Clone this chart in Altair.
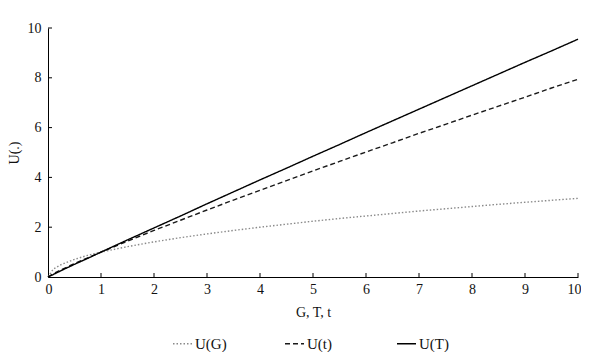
import altair as alt
import pandas as pd

x_vals = [0, 0.1, 0.25, 0.5, 0.75, 1, 1.5, 2, 2.5, 3, 3.5, 4, 4.5, 5, 5.5, 6, 6.5, 7, 7.5, 8, 8.5, 9, 9.5, 10]
u_G = [0, 0.32, 0.5, 0.71, 0.87, 1, 1.22, 1.41, 1.58, 1.73, 1.87, 2, 2.12, 2.24, 2.35, 2.45, 2.55, 2.65, 2.74, 2.83, 2.92, 3, 3.08, 3.16]
u_t = [0, 0.13, 0.29, 0.54, 0.77, 1, 1.44, 1.87, 2.28, 2.69, 3.09, 3.48, 3.87, 4.26, 4.64, 5.02, 5.39, 5.77, 6.13, 6.50, 6.86, 7.22, 7.59, 7.94]
u_T = [0, 0.10, 0.26, 0.51, 0.75, 1, 1.49, 1.97, 2.45, 2.94, 3.42, 3.90, 4.37, 4.85, 5.32, 5.80, 6.27, 6.74, 7.21, 7.68, 8.15, 8.62, 9.08, 9.55]
series_names = ["U(G)", "U(t)", "U(T)"]
x_ticks = [1, 2, 3, 4, 5, 6, 7, 8, 9, 10]
y_ticks = [2, 4, 6, 8, 10]

W, H = 530, 249
FONT = "Liberation Serif"

rows = []
for name, vals in zip(series_names, [u_G, u_t, u_T]):
    for i, (xv, yv) in enumerate(zip(x_vals, vals)):
        rows.append({"x": xv, "y": yv, "series": name, "order": i})
df = pd.DataFrame(rows)

xscale = alt.Scale(domain=[0, 10], nice=False)
yscale = alt.Scale(domain=[0, 10], nice=False)
xaxis = alt.Axis(values=list(range(0, 11)), tickSize=0, labelPadding=5, format="d", titlePadding=9,
                 labelFlush=True, labelFlushOffset=3)
yaxis = alt.Axis(values=[0, 2, 4, 6, 8, 10], tickSize=0, labelPadding=7, format="d", titlePadding=6)

def X(field):
    return alt.X(field, scale=xscale, title="G, T, t", axis=xaxis)

def Y(field):
    return alt.Y(field, scale=yscale, title="U(.)", axis=yaxis)

legend = alt.Legend(title=None, orient="none", legendX=124, legendY=305, direction="horizontal",
                    symbolType="stroke", symbolSize=361, symbolStrokeWidth=1.6, labelOffset=2,
                    columnPadding=54, gridAlign="all", labelFontSize=15, labelFont=FONT,
                    labelColor="#111")

lines = alt.Chart(df).mark_line(strokeWidth=1.4).encode(
    x=X("x:Q"),
    y=Y("y:Q"),
    order="order:Q",
    color=alt.Color("series:N", scale=alt.Scale(domain=series_names, range=["#8a8a8a", "#1a1a1a", "#000000"]),
                    legend=legend),
    strokeDash=alt.StrokeDash("series:N", scale=alt.Scale(domain=series_names, range=[[1.5, 2], [5, 3], [1, 0]]),
                              legend=legend),
)

xt = alt.Chart(pd.DataFrame({"x": x_ticks})).mark_rule(color="#000", strokeWidth=1).encode(
    x=X("x:Q"), y=alt.value(H), y2=alt.value(H - 4))
yt = alt.Chart(pd.DataFrame({"y": y_ticks})).mark_rule(color="#000", strokeWidth=1).encode(
    y=Y("y:Q"), x=alt.value(0), x2=alt.value(4))

chart = alt.layer(lines, xt, yt).properties(
    width=W, height=H,
    autosize=alt.AutoSizeParams(type="none"),
    padding={"left": 40, "top": 20, "right": 3, "bottom": 75},
).configure_view(stroke=None).configure_axis(
    domainColor="#000", domainWidth=1, grid=False,
    labelFont=FONT, labelFontSize=14, labelColor="#111",
    titleFont=FONT, titleFontSize=14, titleFontWeight="normal", titleColor="#111",
)

chart.save("out.html", embed_options={"renderer": "svg", "actions": False})
